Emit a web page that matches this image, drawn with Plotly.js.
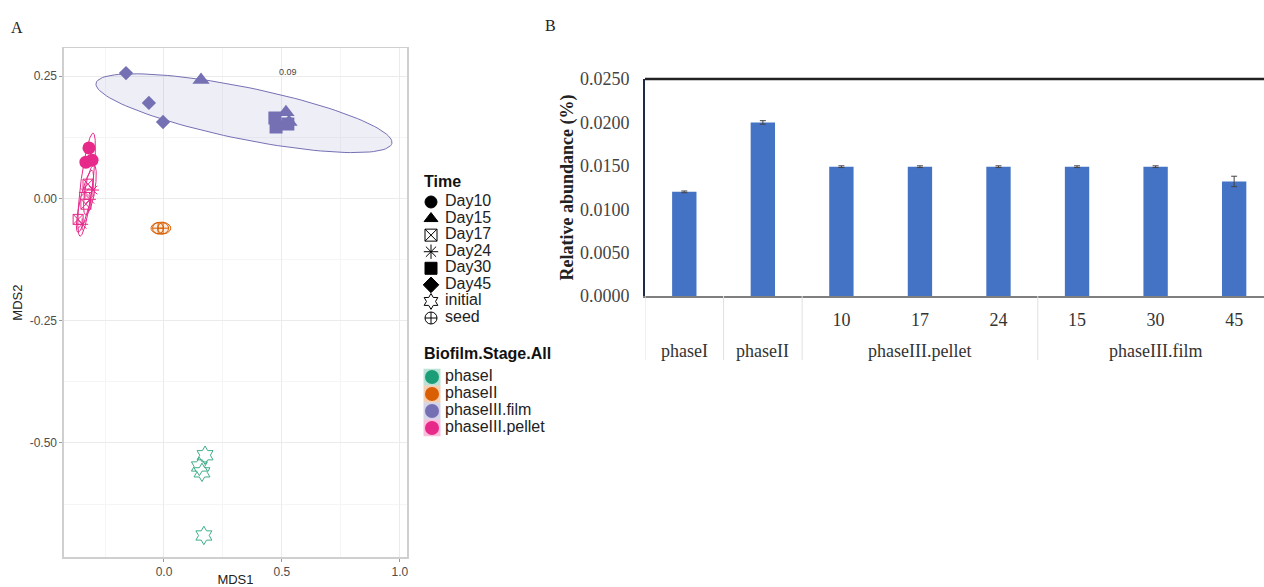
<!DOCTYPE html>
<html><head><meta charset="utf-8">
<script src="https://cdn.plot.ly/plotly-3.0.1.min.js"></script>
<style>html,body{margin:0;padding:0;background:#fff;} #chart{width:1264px;height:587px;}</style>
</head><body><div id="chart"></div>
<script>
// ---------- Panel A: NMDS points ----------
const filmDay45X = [-0.161, -0.064, -0.004];
const filmDay45Y = [0.256, 0.195, 0.156];
const filmDay15X = [0.157, 0.517, 0.530];
const filmDay15Y = [0.242, 0.176, 0.156];
const filmDay30X = [0.470, 0.475, 0.525];
const filmDay30Y = [0.164, 0.146, 0.152];
const pelletDay10X = [-0.318, -0.331, -0.305];
const pelletDay10Y = [0.103, 0.074, 0.078];
const pelletDay17X = [-0.322, -0.331, -0.364];
const pelletDay17Y = [0.029, -0.012, -0.043];
const pelletDay24X = [-0.335, -0.314, -0.347, -0.301];
const pelletDay24Y = [0.012, -0.002, -0.053, 0.017];
const seedX = [-0.025, -0.004];
const seedY = [-0.061, -0.061];
const initialX = [0.174, 0.161, 0.169, 0.150];
const initialY = [-0.525, -0.560, -0.689, -0.548];
// ellipse parameters: [centerX, centerY, majorX, majorY, minorX, minorY]
const filmEllipse = [0.339, 0.174, 0.627, -0.0615, 0.022, 0.052];
const seedEllipse = [-0.013, -0.061, 0.042, 0.0, 0.0, 0.0125];
const pelletEllipse1 = [-0.328, 0.028, 0.0275, 0.1053, 0.0252, -0.0015];
const pelletEllipse2 = [-0.335, -0.006, 0.0297, 0.0634, 0.0208, -0.0022];
const pelletEllipse3 = [-0.314, 0.017, 0.017, 0.051, 0.021, -0.0007];
const stressLabel = ['0.09'];
const stressPos = [0.525, 0.256];
const mdsXTicks = [0, 0.5, 1.0];
const mdsXTickText = ['0.0', '0.5', '1.0'];
const mdsXMinor = [-0.25, 0.25, 0.75];
const mdsYTicks = [-0.5, -0.25, 0, 0.25];
const mdsYTickText = ['-0.50', '-0.25', '0.00', '0.25'];
const mdsYMinor = [-0.625, -0.375, -0.125, 0.125];

// ---------- Legend ----------
const timeLabels = ['Day10', 'Day15', 'Day17', 'Day24', 'Day30', 'Day45', 'initial', 'seed'];
const timeSymbols = ['circle', 'triangle-up', 'square-x-open', 'asterisk-open', 'square', 'diamond', 'hexagram-open', 'circle-cross-open'];
const stageLabels = ['phaseI', 'phaseII', 'phaseIII.film', 'phaseIII.pellet'];
const stageColors = ['#1B9E77', '#D95F02', '#7570B3', '#E7298A'];

// ---------- Panel B: bars ----------
const groupLabels = ['phaseI', 'phaseII', 'phaseIII.pellet', 'phaseIII.pellet', 'phaseIII.pellet', 'phaseIII.film', 'phaseIII.film', 'phaseIII.film'];
const dayLabels = ['', '', '10', '17', '24', '15', '30', '45'];
const abundance = [0.0120, 0.0200, 0.0149, 0.0149, 0.0149, 0.0149, 0.0149, 0.0132];
const abundanceErr = [0.0001, 0.0002, 0.0001, 0.0001, 0.0001, 0.0001, 0.0001, 0.0006];
const abundanceTicks = [0, 0.005, 0.010, 0.015, 0.020, 0.025];

const FILM = '#7570B3', PELLET = '#E7298A', SEED = '#D95F02', INIT = '#1B9E77';
const barPos = abundance.map((v, i) => i);

function ellipse(p) {
  const xs = [], ys = [];
  for (let i = 0; i <= 120; i++) {
    const t = 2 * Math.PI * i / 120;
    xs.push(p[0] + p[2] * Math.cos(t) + p[4] * Math.sin(t));
    ys.push(p[1] + p[3] * Math.cos(t) + p[5] * Math.sin(t));
  }
  return {x: xs, y: ys};
}
function ellTrace(p, color, fill) {
  const e = ellipse(p);
  return {type: 'scatter', mode: 'lines', x: e.x, y: e.y, xaxis: 'x', yaxis: 'y',
    line: {color: color, width: 1}, fill: fill ? 'toself' : 'none', fillcolor: fill || 'rgba(0,0,0,0)', hoverinfo: 'skip'};
}
function pts(xs, ys, sym, color, size, open) {
  return {type: 'scatter', mode: 'markers', x: xs, y: ys, xaxis: 'x', yaxis: 'y',
    marker: {symbol: sym, color: color, size: size, line: {color: color, width: open ? 1 : 0}}};
}

const traces = [
  ellTrace(filmEllipse, FILM, 'rgba(117,112,179,0.12)'),
  ellTrace(seedEllipse, SEED, 'rgba(217,95,2,0.12)'),
  ellTrace(pelletEllipse1, PELLET, null),
  ellTrace(pelletEllipse2, PELLET, null),
  ellTrace(pelletEllipse3, PELLET, null),
  pts(filmDay45X, filmDay45Y, 'diamond', FILM, 11, false),
  pts(filmDay15X, filmDay15Y, 'triangle-up', FILM, 15, false),
  pts(filmDay30X, filmDay30Y, 'square', FILM, 13, false),
  pts(pelletDay17X, pelletDay17Y, 'square-x-open', PELLET, 10, true),
  pts(pelletDay24X, pelletDay24Y, 'asterisk-open', PELLET, 10, true),
  pts(pelletDay10X, pelletDay10Y, 'circle', PELLET, 13, false),
  pts(seedX, seedY, 'circle-cross-open', SEED, 11, true),
  pts(initialX, initialY, 'hexagram-open', '#3fae8a', 14, true),
  {type: 'scatter', mode: 'text', x: [stressPos[0]], y: [stressPos[1]], text: stressLabel, xaxis: 'x', yaxis: 'y',
    textfont: {family: 'Liberation Sans, Arial', size: 9, color: '#444'}, hoverinfo: 'skip'},
  // legend: Time
  {type: 'scatter', mode: 'markers', x: timeLabels.map(() => 11), y: timeLabels.map((d, i) => i), xaxis: 'x3', yaxis: 'y3',
    marker: {symbol: timeSymbols, size: 12, color: '#000', line: {color: '#000', width: 1}}, hoverinfo: 'skip'},
  {type: 'scatter', mode: 'text', x: timeLabels.map(() => 25), y: timeLabels.map((d, i) => i), text: timeLabels, xaxis: 'x3', yaxis: 'y3',
    textposition: 'middle right', textfont: {family: 'Liberation Sans, Arial', size: 16, color: '#222'}, hoverinfo: 'skip'},
  // legend: stage
  {type: 'scatter', mode: 'markers', x: stageLabels.map(() => 12), y: stageLabels.map((d, i) => i), xaxis: 'x4', yaxis: 'y4',
    marker: {symbol: 'square', size: 17, color: stageColors, opacity: 0.3}, hoverinfo: 'skip'},
  {type: 'scatter', mode: 'markers', x: stageLabels.map(() => 12), y: stageLabels.map((d, i) => i), xaxis: 'x4', yaxis: 'y4',
    marker: {symbol: 'circle', size: 14, color: stageColors}, hoverinfo: 'skip'},
  {type: 'scatter', mode: 'text', x: stageLabels.map(() => 25), y: stageLabels.map((d, i) => i), text: stageLabels, xaxis: 'x4', yaxis: 'y4',
    textposition: 'middle right', textfont: {family: 'Liberation Sans, Arial', size: 16, color: '#222'}, hoverinfo: 'skip'},
  // Panel B bars
  {type: 'bar', x: barPos, y: abundance, xaxis: 'x2', yaxis: 'y2',
    marker: {color: '#4472C4'}, width: 0.31,
    error_y: {type: 'data', array: abundanceErr, visible: true, color: '#444', thickness: 1, width: 3}}
];

const axA = {family: 'Liberation Sans, Arial', size: 12, color: '#4d4d4d'};
const serif = 'Liberation Serif, Times New Roman, serif';
const hidden = {visible: false, showgrid: false, zeroline: false, fixedrange: true};

// group labels and dividers for panel B, derived from groupLabels
const groups = [];
groupLabels.forEach((g, i) => {
  if (!groups.length || groups[groups.length - 1].name !== g) groups.push({name: g, start: i, end: i});
  else groups[groups.length - 1].end = i;
});
const yAxisB = 1 - 296 / 587, yDivEnd = 1 - 360 / 587, yGroupLbl = 1 - 351 / 587;
const shapes = [
  {type: 'line', xref: 'x2 domain', yref: 'y2 domain', x0: 0, x1: 1, y0: 1, y1: 1, line: {color: '#222', width: 2.5}}
];
groups.forEach(g => {
  shapes.push({type: 'line', xref: 'x2', yref: 'paper', x0: g.start - 0.5, x1: g.start - 0.5, y0: yAxisB, y1: yDivEnd,
    line: {color: '#e0e0e0', width: 1}});
});
const annotations = [
  {text: 'A', xref: 'paper', yref: 'paper', x: 9 / 1264, y: 1 - 27 / 587, xanchor: 'left', yanchor: 'middle', showarrow: false,
    font: {family: serif, size: 16, color: '#222'}},
  {text: 'B', xref: 'paper', yref: 'paper', x: 543 / 1264, y: 1 - 25 / 587, xanchor: 'left', yanchor: 'middle', showarrow: false,
    font: {family: serif, size: 16, color: '#222'}},
  {text: '<b>Time</b>', xref: 'paper', yref: 'paper', x: 422 / 1264, y: 1 - 181 / 587, xanchor: 'left', yanchor: 'middle', showarrow: false,
    font: {family: 'Liberation Sans, Arial', size: 16, color: '#111'}},
  {text: '<b>Biofilm.Stage.All</b>', xref: 'paper', yref: 'paper', x: 422 / 1264, y: 1 - 353 / 587, xanchor: 'left', yanchor: 'middle', showarrow: false,
    font: {family: 'Liberation Sans, Arial', size: 16, color: '#111'}}
];
groups.forEach(g => {
  annotations.push({text: g.name, xref: 'x2', yref: 'paper', x: (g.start + g.end) / 2, y: yGroupLbl, xanchor: 'center', yanchor: 'middle',
    showarrow: false, font: {family: serif, size: 18, color: '#333'}});
});

const layout = {
  width: 1264, height: 587,
  margin: {l: 0, r: 0, t: 0, b: 0},
  paper_bgcolor: '#fff', plot_bgcolor: 'rgba(0,0,0,0)',
  showlegend: false,
  xaxis: {domain: [0.0506, 0.322], range: [-0.424, 1.03], anchor: 'y',
    tickvals: mdsXTicks, ticktext: mdsXTickText, tickfont: axA,
    showgrid: true, gridcolor: '#ebebeb', gridwidth: 1,
    minor: {tickvals: mdsXMinor, showgrid: true, gridcolor: '#f5f5f5', ticks: ''},
    zeroline: false, showline: true, mirror: true, linecolor: '#cfcfcf', linewidth: 1.5,
    ticks: 'outside', ticklen: 3, tickcolor: '#999',
    title: {text: 'MDS1', font: {family: 'Liberation Sans, Arial', size: 13, color: '#222'}, standoff: 4}},
  yaxis: {domain: [0.0511, 0.918], range: [-0.733, 0.307], anchor: 'x',
    tickvals: mdsYTicks, ticktext: mdsYTickText, tickfont: axA,
    showgrid: true, gridcolor: '#ebebeb', gridwidth: 1,
    minor: {tickvals: mdsYMinor, showgrid: true, gridcolor: '#f5f5f5', ticks: ''},
    zeroline: false, showline: true, mirror: true, linecolor: '#cfcfcf', linewidth: 1.5,
    ticks: 'outside', ticklen: 3, tickcolor: '#999',
    title: {text: 'MDS2', font: {family: 'Liberation Sans, Arial', size: 13, color: '#222'}, standoff: 4}},
  xaxis2: {domain: [0.5103, 1], anchor: 'y2', range: [-0.5, 7.38],
    tickvals: barPos, ticktext: dayLabels,
    tickfont: {family: serif, size: 18, color: '#333'}, ticklabelstandoff: 6,
    showline: true, linecolor: '#7f7f7f', linewidth: 2,
    showgrid: false, zeroline: false, ticks: ''},
  yaxis2: {domain: [0.4957, 0.8654], anchor: 'x2', range: [0, 0.025],
    tickvals: abundanceTicks, tickformat: '.4f',
    tickfont: {family: serif, size: 18, color: '#444'}, ticklabelstandoff: 10,
    showline: true, linecolor: '#1f2a44', linewidth: 2, showgrid: false, zeroline: false, ticks: '',
    title: {text: '<b>Relative abundance (%)</b>', font: {family: serif, size: 18, color: '#222'}, standoff: 2}},
  xaxis3: Object.assign({domain: [420 / 1264, 560 / 1264], range: [0, 140], anchor: 'y3'}, hidden),
  yaxis3: Object.assign({domain: [1 - 326.3 / 587, 1 - 193.7 / 587], range: [7.5, -0.5], anchor: 'x3'}, hidden),
  xaxis4: Object.assign({domain: [420 / 1264, 560 / 1264], range: [0, 140], anchor: 'y4'}, hidden),
  yaxis4: Object.assign({domain: [1 - 436.5 / 587, 1 - 368.5 / 587], range: [3.5, -0.5], anchor: 'x4'}, hidden),
  shapes: shapes,
  annotations: annotations
};

Plotly.newPlot('chart', traces, layout, {displayModeBar: false, staticPlot: true});
</script></body></html>
